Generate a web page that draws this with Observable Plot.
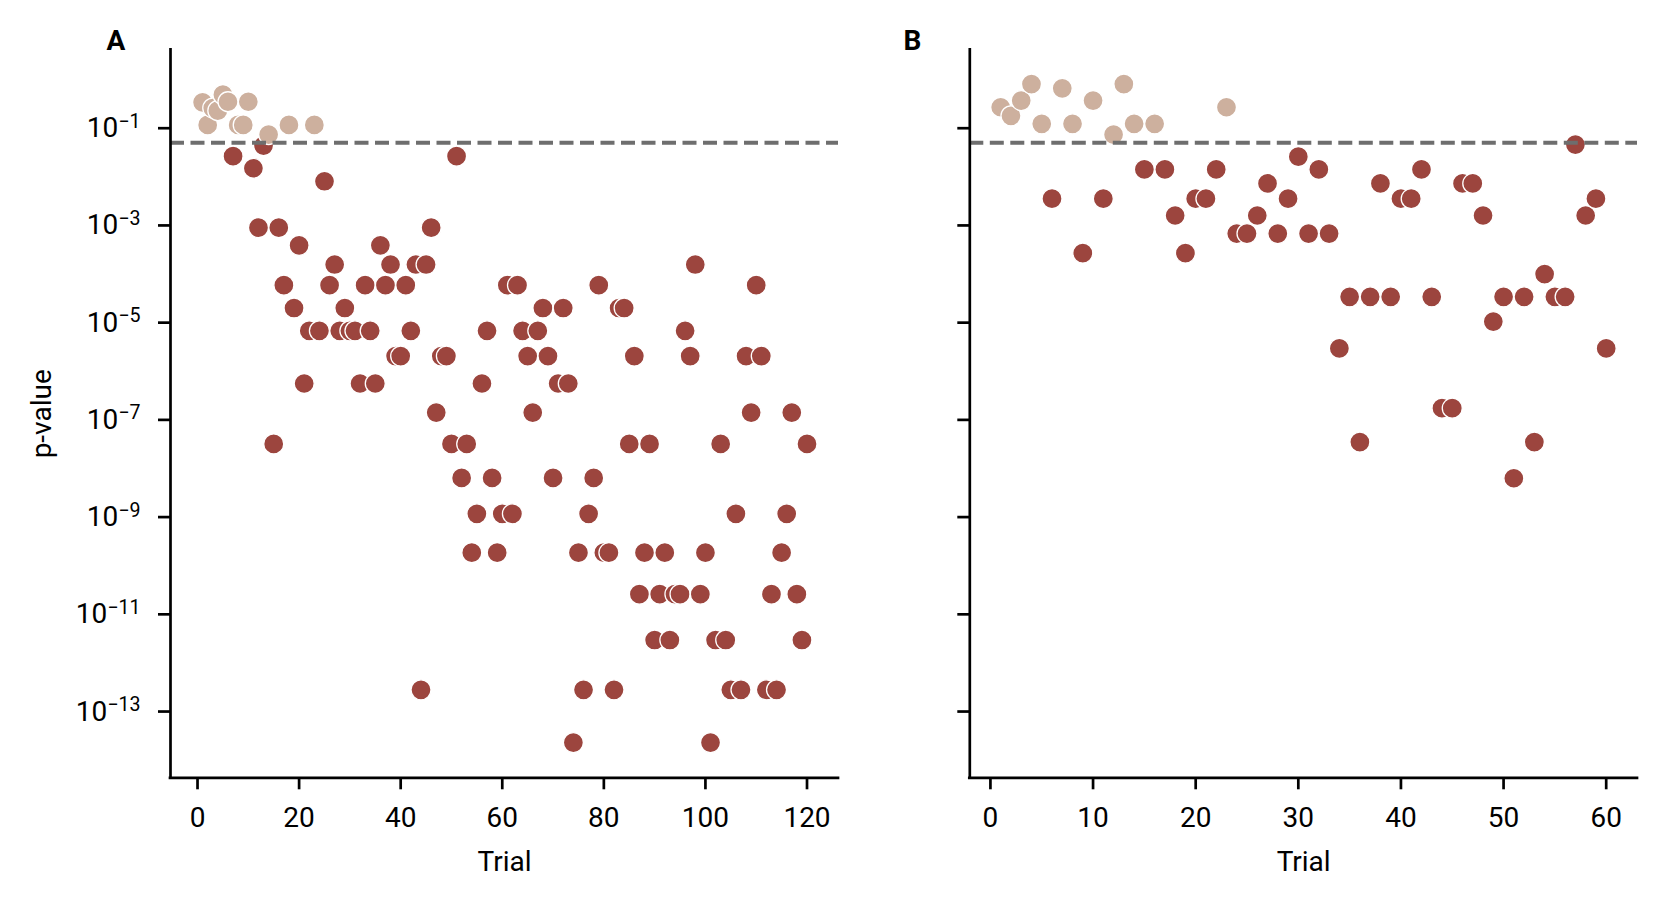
<!DOCTYPE html>
<html><head><meta charset="utf-8">
<script src="https://cdn.jsdelivr.net/npm/d3@7"></script>
<script src="https://cdn.jsdelivr.net/npm/@observablehq/plot@0.6"></script>
<style>
body{margin:0;background:#fff;}
#chart{display:flex;width:1662px;height:905px;background:#fff;}
</style></head><body><div id="chart"></div>
<script>
// ---- data ----
const trialsA = [1,2,3,4,5,6,7,8,9,10,11,12,13,14,15,16,17,18,19,20,21,22,23,24,25,26,27,28,29,30,
  31,32,33,34,35,36,37,38,39,40,41,42,43,44,45,46,47,48,49,50,51,52,53,54,55,56,57,58,59,60,
  61,62,63,64,65,66,67,68,69,70,71,72,73,74,75,76,77,78,79,80,81,82,83,84,85,86,87,88,89,90,
  91,92,93,94,95,96,97,98,99,100,101,102,103,104,105,106,107,108,109,110,111,112,113,114,115,116,117,118,119,120];
const pA = [0.34,0.117,0.26,0.23,0.49,0.35,0.0266,0.117,0.117,0.35,
  0.015,9e-4,0.044,0.074,3.2e-8,9e-4,5.9e-5,0.117,2e-5,3.9e-4,
  5.6e-7,6.8e-6,0.117,6.8e-6,0.0081,5.9e-5,1.57e-4,6.8e-6,2e-5,6.8e-6,
  6.8e-6,5.6e-7,5.9e-5,6.8e-6,5.6e-7,3.9e-4,5.9e-5,1.57e-4,2.05e-6,2.05e-6,
  5.9e-5,6.8e-6,1.57e-4,2.8e-13,1.57e-4,9e-4,1.41e-7,2.05e-6,2.05e-6,3.2e-8,
  0.0266,6.4e-9,3.2e-8,1.85e-10,1.17e-9,5.6e-7,6.8e-6,6.4e-9,1.85e-10,1.17e-9,
  5.9e-5,1.17e-9,5.9e-5,6.8e-6,2.05e-6,1.41e-7,6.8e-6,2e-5,2.05e-6,6.4e-9,
  5.6e-7,2e-5,5.6e-7,2.3e-14,1.85e-10,2.8e-13,1.17e-9,6.4e-9,5.9e-5,1.85e-10,
  1.85e-10,2.8e-13,2e-5,2e-5,3.2e-8,2.05e-6,2.6e-11,1.85e-10,3.2e-8,2.96e-12,
  2.6e-11,1.85e-10,2.96e-12,2.6e-11,2.6e-11,6.8e-6,2.05e-6,1.57e-4,2.6e-11,1.85e-10,
  2.3e-14,2.96e-12,3.2e-8,2.96e-12,2.8e-13,1.17e-9,2.8e-13,2.05e-6,1.41e-7,5.9e-5,
  2.05e-6,2.8e-13,2.6e-11,2.8e-13,1.85e-10,1.17e-9,1.41e-7,2.6e-11,2.96e-12,3.2e-8];

const trialsB = [1,2,3,4,5,6,7,8,9,10,11,12,13,14,15,16,17,18,19,20,21,22,23,24,25,26,27,28,29,30,
  31,32,33,34,35,36,37,38,39,40,41,42,43,44,45,46,47,48,49,50,51,52,53,54,55,56,57,58,59,60];
const pB = [0.27,0.18,0.37,0.81,0.123,3.55e-3,0.66,0.123,2.7e-4,0.37,
  3.55e-3,0.074,0.81,0.123,0.0142,0.123,0.0142,1.6e-3,2.7e-4,3.55e-3,
  3.55e-3,0.0142,0.27,6.8e-4,6.8e-4,1.6e-3,7.3e-3,6.8e-4,3.55e-3,0.026,
  6.8e-4,0.0142,6.8e-4,2.95e-6,3.4e-5,3.5e-8,3.4e-5,7.3e-3,3.4e-5,3.55e-3,
  3.55e-3,0.0142,3.4e-5,1.74e-7,1.74e-7,7.3e-3,7.3e-3,1.6e-3,1.05e-5,3.4e-5,
  6.3e-9,3.4e-5,3.5e-8,1e-4,3.4e-5,3.4e-5,0.046,1.6e-3,3.55e-3,2.95e-6];

const xTicksA = [0,20,40,60,80,100,120];
const xTicksB = [0,10,20,30,40,50,60];
const yTicks = [1e-1,1e-3,1e-5,1e-7,1e-9,1e-11,1e-13];
const threshold = 0.05;
const panelLabels = ["A","B"];
const xLabel = "Trial";
const yLabel = "p-value";

// ---- styling ----
const COLOR_SIG = "#9c453e", COLOR_NS = "#cdb09e";
const yDomain = [Math.pow(10,-14.363), Math.pow(10,0.613)];

function panel({trials, p, xDomain, xTicks, width, marginLeft, marginRight, label, labelDx, showYLabels}) {
  const data = trials.map((t,i)=>({trial:t, p:p[i]}));
  const marks = [
    Plot.dot(data, {x:"trial", y:"p", r:10, fill: d => d.p < threshold ? COLOR_SIG : COLOR_NS, stroke:"white", strokeWidth:1.3}),
    Plot.ruleY([threshold], {stroke:"#6e6e6e", strokeWidth:4, strokeDasharray:"14,6.5"}),
    Plot.ruleX([xDomain[0]], {stroke:"black", strokeWidth:2.7, strokeLinecap:"square"}),
    Plot.ruleY([yDomain[0]], {stroke:"black", strokeWidth:2.7, strokeLinecap:"square"}),
    Plot.axisX({ticks:xTicks, tickSize:12, tickPadding:17, strokeWidth:2.7, fontSize:28, label:null, tickFormat:d=>String(d)}),
    Plot.axisY({ticks:yTicks, tickSize:12, tickPadding:18, strokeWidth:2.7, fontSize:28, label:null,
      tickFormat: showYLabels ? (d=>"10^"+Math.round(Math.log10(d))) : (()=>"")}),
    Plot.text([xLabel], {text:d=>d, frameAnchor:"bottom", dy:84, lineAnchor:"middle", fontSize:28}),
    Plot.text([label], {text:d=>d, frameAnchor:"top-left", dx:labelDx, dy:-8.3, fontWeight:"bold", fontSize:28, textAnchor:"middle", lineAnchor:"middle"})
  ];
  if (showYLabels) marks.push(Plot.text([yLabel], {text:d=>d, frameAnchor:"left", dx:-128, rotate:-90, textAnchor:"middle", lineAnchor:"middle", fontSize:28}));
  const svg = Plot.plot({
    width, height:905, marginLeft, marginRight, marginTop:49.3, marginBottom:905-777.3,
    x:{domain:xDomain}, y:{type:"log", domain:yDomain}, color:{type:"identity"},
    style:{fontFamily:"Roboto", fontSize:"28px", color:"black", background:"white", overflow:"visible"},
    marks
  });
  svg.querySelectorAll("text").forEach(t => {
    const m = /^10\^(-?\d+)$/.exec(t.textContent);
    if (!m) return;
    t.textContent = "10";
    const ts = document.createElementNS("http://www.w3.org/2000/svg","tspan");
    ts.setAttribute("font-size","19.6");
    ts.setAttribute("dy","-9.5");
    ts.textContent = m[1].replace("-","\u2212");
    t.appendChild(ts);
  });
  return svg;
}

const chart = document.getElementById("chart");
chart.appendChild(panel({trials:trialsA, p:pA, xDomain:[-5.32,126.2], xTicks:xTicksA, width:880, marginLeft:170, marginRight:42, label:panelLabels[0], labelDx:-54.5, showYLabels:true}));
chart.appendChild(panel({trials:trialsB, p:pB, xDomain:[-2.01,63.05], xTicks:xTicksB, width:782, marginLeft:89.3, marginRight:25, label:panelLabels[1], labelDx:-57.3, showYLabels:false}));
</script></body></html>
